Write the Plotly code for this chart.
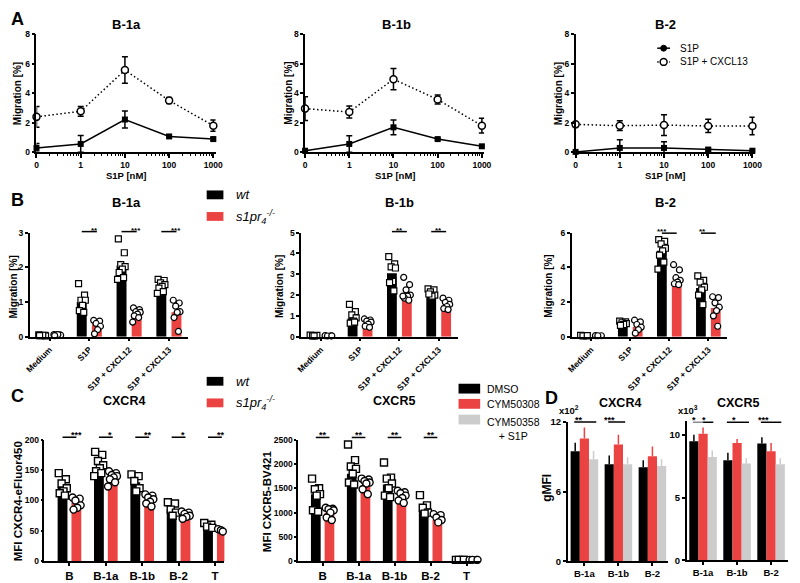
import numpy as np
import plotly.graph_objects as go

W, H = 800, 583
FONT = "Liberation Sans"
RED = "#EB4242"
GRAY = "#CCCCCC"

# ---------------- Panel A data ----------------
A_titles = ["B-1a", "B-1b", "B-2"]
A_conc = [0, 1, 10, 100, 1000]
A_tick_labels = ["0", "1", "10", "100", "1000"]
A_s1p = [[0.29, 0.56, 2.22, 1.07, 0.89],
         [0.10, 0.56, 1.69, 0.89, 0.40],
         [0.02, 0.29, 0.29, 0.18, 0.10]]
A_s1p_err = [[0.30, 0.57, 0.58, 0.10, 0.12],
             [0.05, 0.56, 0.50, 0.06, 0.10],
             [0.02, 0.55, 0.42, 0.10, 0.05]]
A_cx13 = [[2.40, 2.78, 5.58, 3.51, 1.80],
          [2.96, 2.73, 4.96, 3.58, 1.80],
          [1.89, 1.80, 1.84, 1.78, 1.78]]
A_cx13_err = [[0.70, 0.33, 0.90, 0.20, 0.38],
              [0.80, 0.40, 0.72, 0.30, 0.50],
              [0.05, 0.33, 0.70, 0.45, 0.60]]

# ---------------- Panel B data ----------------
B_titles = ["B-1a", "B-1b", "B-2"]
B_groups = ["Medium", "S1P", "S1P + CXCL12", "S1P + CXCL13"]
B_wt_bar = [[0.03, 1.00, 2.05, 1.45],
            [0.05, 0.88, 3.05, 2.10],
            [0.05, 0.80, 4.95, 2.80]]
B_ko_bar = [[0.05, 0.35, 0.63, 0.70],
            [0.04, 0.65, 1.90, 1.50],
            [0.05, 0.55, 3.10, 1.65]]
B_wt_pts = [
    [[0.05, 0.04, 0.03, 0.02, 0.04, 0.03],
     [1.53, 1.20, 1.05, 1.05, 0.90, 0.75, 0.70],
     [2.82, 2.42, 2.08, 2.02, 1.95, 1.85, 1.70, 1.65],
     [1.65, 1.62, 1.55, 1.50, 1.45, 1.40, 1.30, 1.25]],
    [[0.07, 0.05, 0.04, 0.06, 0.03],
     [1.55, 1.20, 1.05, 0.90, 0.75, 0.65, 0.70],
     [3.85, 3.50, 3.35, 3.30, 2.65, 2.60, 2.20],
     [2.30, 2.25, 2.15, 2.00, 1.95, 2.05]],
    [[0.07, 0.05, 0.04, 0.06],
     [0.90, 0.85, 0.80, 0.75, 0.70, 0.65],
     [5.60, 5.50, 5.35, 5.10, 4.95, 4.70, 4.30, 3.90],
     [3.50, 3.25, 3.15, 2.85, 2.70, 2.40, 1.85]]]
B_ko_pts = [
    [[0.06, 0.05, 0.05, 0.04, 0.06, 0.03],
     [0.47, 0.45, 0.38, 0.30, 0.20, 0.08],
     [0.83, 0.78, 0.72, 0.70, 0.65, 0.60, 0.55, 0.42],
     [1.05, 0.97, 0.88, 0.72, 0.70, 0.55, 0.15]],
    [[0.05, 0.04, 0.03, 0.04],
     [0.85, 0.80, 0.75, 0.70, 0.60, 0.50, 0.45],
     [2.85, 2.50, 2.25, 2.00, 1.95, 1.85, 1.75, 1.95],
     [1.85, 1.75, 1.65, 1.55, 1.45, 1.35, 1.30]],
    [[0.06, 0.05, 0.05],
     [0.95, 0.85, 0.70, 0.55, 0.40, 0.20],
     [4.15, 3.85, 3.40, 3.25, 3.15, 3.05, 3.00],
     [2.30, 2.25, 1.95, 1.70, 1.50, 1.20, 0.60]]]
B_yticks = [[0, 1, 2, 3], [0, 1, 2, 3, 4, 5], [0, 2, 4, 6]]
B_sig = [[(1, "**"), (2, "***"), (3, "***")],
         [(2, "**"), (3, "**")],
         [(2, "***"), (3, "**")]]
B_sig_level = [3.03, 5.05, 5.97]

# ---------------- Panel C data ----------------
C_titles = ["CXCR4", "CXCR5"]
C_ytitles = ["MFI CXCR4-eFluor450", "MFI CXCR5-BV421"]
C_cells = ["B", "B-1a", "B-1b", "B-2", "T"]
C_wt_bar = [[122, 155, 130, 85, 55], [1380, 1800, 1580, 1030, 30]]
C_ko_bar = [[97, 137, 97, 70, 50], [1000, 1560, 1300, 850, 30]]
C_wt_pts = [
    [[145, 135, 128, 120, 115, 112, 108],
     [180, 175, 165, 158, 153, 148, 145, 140],
     [143, 140, 132, 120, 115],
     [97, 95, 85, 80, 75],
     [63, 60, 57, 55]],
    [[1700, 1500, 1480, 1380, 1350, 1050, 1020],
     [2400, 2080, 1950, 1900, 1800, 1620, 1580],
     [2030, 1720, 1700, 1600, 1500, 1350, 1320],
     [1360, 1150, 1100, 1000, 980],
     [30, 30, 30, 30]]]
C_ko_pts = [
    [[105, 103, 100, 92, 88, 85],
     [148, 145, 142, 140, 138, 135, 130, 123],
     [110, 108, 105, 102, 98, 95, 90],
     [82, 80, 78, 75, 73, 70],
     [53, 52, 51, 50, 49]],
    [[1100, 1080, 1070, 1050, 1000, 900, 850],
     [1700, 1680, 1650, 1620, 1600, 1480, 1380],
     [1450, 1420, 1400, 1350, 1300, 1250, 1200],
     [970, 950, 900, 850, 800],
     [30, 30, 30, 30]]]
C_yticks = [[0, 50, 100, 150, 200], [0, 500, 1000, 1500, 2000, 2500]]
C_sig = [["***", "*", "**", "*", "**"], ["**", "**", "**", "**", None]]
C_sig_level = [204, 2545]

# ---------------- Panel D data ----------------
D_titles = ["CXCR4", "CXCR5"]
D_scale = ["x10<sup>2</sup>", "x10<sup>3</sup>"]
D_cells = ["B-1a", "B-1b", "B-2"]
D_treat = ["DMSO", "CYM50308", "CYM50358<br>+ S1P"]
D_mean = [[[9.47, 8.37, 8.11], [10.57, 10.06, 9.04], [8.80, 8.37, 8.20]],
          [[9.48, 7.97, 9.30], [10.08, 9.35, 8.70], [8.23, 7.71, 7.66]]]
D_err = [[[0.75, 0.75, 0.60], [0.95, 0.85, 0.85], [0.70, 0.60, 0.60]],
         [[0.52, 0.60, 0.50], [0.50, 0.32, 0.65], [0.52, 0.42, 0.47]]]
D_yticks = [[0, 6, 12], [0, 5, 10]]

# ============================================================
fig = go.Figure()
layout = {}
annotations = []
shapes = []
AXES = {}
DOT = "1.5px,2.5px"


def px_x(x):
    return x / W


def px_y(y):
    return 1 - y / H


def xr(i):
    return "x" if i == 1 else f"x{i}"


def yr(i):
    return "y" if i == 1 else f"y{i}"


def data_to_px(i, x, y):
    xbox, xrange, ybox, yrange = AXES[i]
    px = xbox[0] + (x - xrange[0]) / (xrange[1] - xrange[0]) * (xbox[1] - xbox[0])
    py = ybox[1] - (y - yrange[0]) / (yrange[1] - yrange[0]) * (ybox[1] - ybox[0])
    return px, py


def axis_common(size):
    return dict(showline=True, linecolor="black", linewidth=1.5, ticks="outside",
                ticklen=4, tickwidth=1.5, tickcolor="black", showgrid=False,
                zeroline=False,
                tickfont=dict(family=FONT, size=size, color="black", weight="bold"))


def add_axes(i, xbox, ybox, xrange, yrange, ytick, xsize=9, ysize=9, yticklen=4):
    AXES[i] = (xbox, xrange, ybox, yrange)
    xk = "xaxis" if i == 1 else f"xaxis{i}"
    yk = "yaxis" if i == 1 else f"yaxis{i}"
    xa = axis_common(xsize)
    xa.update(domain=[px_x(xbox[0]), px_x(xbox[1])], anchor=yr(i), range=xrange)
    ya = axis_common(ysize)
    ya.update(domain=[px_y(ybox[1]), px_y(ybox[0])], anchor=xr(i), range=yrange,
              tickmode="array", tickvals=ytick, ticklen=yticklen)
    layout[xk] = xa
    layout[yk] = ya
    return xa, ya


def text(xp, yp, s, size, bold=True, italic=False, xanchor="center",
         yanchor="middle", angle=0):
    if bold:
        s = f"<b>{s}</b>"
    if italic:
        s = f"<i>{s}</i>"
    annotations.append(dict(x=px_x(xp), y=px_y(yp), xref="paper", yref="paper",
                            text=s, showarrow=False, textangle=angle,
                            font=dict(family=FONT, size=size, color="black"),
                            xanchor=xanchor, yanchor=yanchor))


def sig(i, x0, x1, y, s, color="black", sx=None, size=9):
    ax0, ay = data_to_px(i, x0, y)
    ax1, _ = data_to_px(i, x1, y)
    shapes.append(dict(type="line", xref="paper", yref="paper", x0=px_x(ax0), x1=px_x(ax1),
                       y0=px_y(ay), y1=px_y(ay), line=dict(color=color, width=1.5)))
    cx = (ax0 + ax1) / 2 if sx is None else data_to_px(i, sx, y)[0]
    annotations.append(dict(x=px_x(cx), y=px_y(ay), xref="paper", yref="paper",
                            text=f"<b>{s}</b>", showarrow=False, yanchor="bottom",
                            yshift=-5, font=dict(family=FONT, size=size, color="black")))


JIT = [-0.08, 0.07, -0.02, 0.09, 0.02, -0.06, 0.05, -0.10, 0.0]

# ---------------- Panel A ----------------
A_xbox = [(31, 213), (304, 486), (579, 761)]
A_title_x = [122, 397, 670]
A_ytitle_x = [12, 287, 561]
A_pos = [np.log10(c) if c > 0 else -1.0 for c in A_conc]
minor = []
for d in range(-1, 3):
    for k in range(2, 10):
        minor.append(np.log10(k) + d)
for p in range(3):
    i = p + 1
    xa, ya = add_axes(i, A_xbox[p], (29, 149), [-1, 3.05], [0, 8], [0, 2, 4, 6, 8],
                      xsize=8.5, ysize=8.5, yticklen=3)
    xa.update(tickmode="array", tickvals=A_pos, ticktext=A_tick_labels,
              minor=dict(tickmode="array", tickvals=minor, ticks="outside",
                         ticklen=2, tickwidth=1, tickcolor="black"))
    fig.add_trace(go.Scatter(
        x=A_pos, y=A_cx13[p], xaxis=xr(i), yaxis=yr(i), mode="lines+markers",
        line=dict(color="black", width=1.5, dash=DOT),
        marker=dict(symbol="circle", size=7, color="white",
                    line=dict(color="black", width=1.5)),
        error_y=dict(type="data", array=A_cx13_err[p], color="black",
                     thickness=1.5, width=3),
        showlegend=False, cliponaxis=False))
    fig.add_trace(go.Scatter(
        x=A_pos, y=A_s1p[p], xaxis=xr(i), yaxis=yr(i), mode="lines+markers",
        line=dict(color="black", width=1.5),
        marker=dict(symbol="square", size=6, color="black"),
        error_y=dict(type="data", array=A_s1p_err[p], color="black",
                     thickness=1.5, width=3),
        showlegend=False, cliponaxis=False))
    text(A_title_x[p], 19, A_titles[p], 13)
    text(A_ytitle_x[p], 89, "Migration [%]", 10, angle=-90)
    text((A_xbox[p][0] + A_xbox[p][1]) / 2, 173, "S1P [nM]", 9.5)
text(3, 13, "A", 18, xanchor="left")

# legend A
shapes.append(dict(type="line", xref="paper", yref="paper", x0=px_x(662), x1=px_x(675),
                   y0=px_y(43), y1=px_y(43), line=dict(color="black", width=1.5)))
shapes.append(dict(type="circle", xref="paper", yref="paper", x0=px_x(665.5), x1=px_x(671.5),
                   y0=px_y(46), y1=px_y(40), fillcolor="black", line=dict(color="black", width=1)))
shapes.append(dict(type="line", xref="paper", yref="paper", x0=px_x(662), x1=px_x(675),
                   y0=px_y(57), y1=px_y(57), line=dict(color="black", width=1.5, dash=DOT)))
shapes.append(dict(type="circle", xref="paper", yref="paper", x0=px_x(665), x1=px_x(672),
                   y0=px_y(60.5), y1=px_y(53.5), fillcolor="white", line=dict(color="black", width=1.5)))
text(683, 43, "S1P", 10, bold=False, xanchor="left")
text(683, 57, "S1P + CXCL13", 10, bold=False, xanchor="left")

# ---------------- Panel B ----------------
B_xbox = [(24, 185), (300, 459), (575, 733)]
B_title_x = [122, 400, 670]
B_ytitle_x = [8, 278, 552]
B_off = 0.19
B_w = 0.25
for p in range(3):
    i = 4 + p
    ymax = B_yticks[p][-1]
    xa, ya = add_axes(i, B_xbox[p], (231, 337), [-0.5, 3.48], [0, ymax], B_yticks[p],
                      xsize=8.5, ysize=8.5, yticklen=3)
    xa.update(tickmode="array", tickvals=list(range(4)), ticktext=B_groups,
              tickangle=-45, ticklen=3)
    xs = np.arange(4)
    fig.add_trace(go.Bar(x=xs - B_off, y=B_wt_bar[p], width=B_w, marker_color="black",
                         marker_line_width=0, xaxis=xr(i), yaxis=yr(i), showlegend=False))
    fig.add_trace(go.Bar(x=xs + B_off, y=B_ko_bar[p], width=B_w, marker_color=RED,
                         marker_line_width=0, xaxis=xr(i), yaxis=yr(i), showlegend=False))
    for g in range(4):
        wp = B_wt_pts[p][g]
        kp = B_ko_pts[p][g]
        fig.add_trace(go.Scatter(
            x=[g - B_off + JIT[k] for k in range(len(wp))], y=wp, mode="markers",
            marker=dict(symbol="square", size=6, color="white",
                        line=dict(color="black", width=1.2)),
            xaxis=xr(i), yaxis=yr(i), showlegend=False, cliponaxis=False))
        fig.add_trace(go.Scatter(
            x=[g + B_off + JIT[k] for k in range(len(kp))], y=kp, mode="markers",
            marker=dict(symbol="circle", size=6, color="white",
                        line=dict(color="black", width=1.2)),
            xaxis=xr(i), yaxis=yr(i), showlegend=False, cliponaxis=False))
    for g, s in B_sig[p]:
        sig(i, g - B_off, g + B_off, B_sig_level[p], s, size=8)
    text(B_title_x[p], 200, B_titles[p], 13)
    text(B_ytitle_x[p], 286, "Migration [%]", 10, angle=-90)
text(3, 198, "B", 18, xanchor="left")

# legend B and C (wt / s1pr4)
for ytop in (188, 378):
    shapes.append(dict(type="rect", xref="paper", yref="paper", x0=px_x(204), x1=px_x(221),
                       y0=px_y(ytop + 9), y1=px_y(ytop), fillcolor="black", line_width=0))
    shapes.append(dict(type="rect", xref="paper", yref="paper", x0=px_x(204), x1=px_x(221),
                       y0=px_y(ytop + 31), y1=px_y(ytop + 22), fillcolor=RED, line_width=0))
    text(232, ytop + 4.5, "wt", 13, bold=False, italic=True, xanchor="left")
    text(232, ytop + 27, "s1pr<sub>4</sub><sup>-/-</sup>", 13, bold=False, italic=True,
         xanchor="left")

# ---------------- Panel C ----------------
C_xbox = [(39, 222), (297, 482)]
C_xrange = [[-0.69, 4.26], [-0.68, 4.38]]
C_title_x = [120, 394]
C_ytitle_x = [13, 266]
C_off = 0.19
C_w = 0.27
for p in range(2):
    i = 7 + p
    ymax = C_yticks[p][-1]
    xa, ya = add_axes(i, C_xbox[p], (442, 566), C_xrange[p], [0, ymax], C_yticks[p],
                      xsize=11.5, ysize=8.5, yticklen=2)
    xa.update(tickmode="array", tickvals=list(range(5)), ticktext=C_cells, ticklen=3)
    xs = np.arange(5)
    fig.add_trace(go.Bar(x=xs - C_off, y=C_wt_bar[p], width=C_w, marker_color="black",
                         marker_line_width=0, xaxis=xr(i), yaxis=yr(i), showlegend=False))
    fig.add_trace(go.Bar(x=xs + C_off, y=C_ko_bar[p], width=C_w, marker_color=RED,
                         marker_line_width=0, xaxis=xr(i), yaxis=yr(i), showlegend=False))
    for g in range(5):
        wp = C_wt_pts[p][g]
        kp = C_ko_pts[p][g]
        fig.add_trace(go.Scatter(
            x=[g - C_off + 1.3 * JIT[k] for k in range(len(wp))], y=wp, mode="markers",
            marker=dict(symbol="square", size=7, color="white",
                        line=dict(color="black", width=1.4)),
            xaxis=xr(i), yaxis=yr(i), showlegend=False, cliponaxis=False))
        fig.add_trace(go.Scatter(
            x=[g + C_off + 1.3 * JIT[k] for k in range(len(kp))], y=kp, mode="markers",
            marker=dict(symbol="circle", size=7, color="white",
                        line=dict(color="black", width=1.4)),
            xaxis=xr(i), yaxis=yr(i), showlegend=False, cliponaxis=False))
        if C_sig[p][g]:
            sig(i, g - C_off, g + C_off, C_sig_level[p], C_sig[p][g], size=9)
    text(C_title_x[p], 403, C_titles[p], 12.5)
    text(C_ytitle_x[p], 505, C_ytitles[p], 11.5, angle=-90)
text(3, 398, "C", 18, xanchor="left")

# legend D treatments
D_colors = ["black", RED, GRAY]
leg_y = [390, 405.5, 421.5]
for k in range(3):
    shapes.append(dict(type="rect", xref="paper", yref="paper", x0=px_x(460), x1=px_x(482),
                       y0=px_y(leg_y[k] + 5), y1=px_y(leg_y[k] - 5), fillcolor=D_colors[k],
                       line_width=0))
text(487, 390, D_treat[0], 10.5, bold=False, xanchor="left")
text(487, 405.5, D_treat[1], 10.5, bold=False, xanchor="left")
text(487, 416, D_treat[2], 10.5, bold=False, xanchor="left", yanchor="top")

# ---------------- Panel D ----------------
D_xbox = [(571, 673), (692, 795)]
D_ybox = [(424, 566), (423, 565)]
D_xrange = [[-0.49, 2.46], [-0.48, 2.5]]
D_yrange = [[0, 12], [0, 11.1]]
D_title_x = [624, 744]
D_scale_x = [560, 681]
D_off = [-0.27, 0.0, 0.27]
D_w = 0.27
for p in range(2):
    i = 9 + p
    xa, ya = add_axes(i, D_xbox[p], D_ybox[p], D_xrange[p],
                      D_yrange[p], D_yticks[p], xsize=9.5, ysize=9.5, yticklen=3)
    xa.update(tickmode="array", tickvals=list(range(3)), ticktext=D_cells, ticklen=3)
    xs = np.arange(3)
    for k in range(3):
        fig.add_trace(go.Bar(
            x=xs + D_off[k], y=D_mean[p][k], width=D_w, marker_color=D_colors[k],
            marker_line_width=0, xaxis=xr(i), yaxis=yr(i), showlegend=False,
            error_y=dict(type="data", array=D_err[p][k], arrayminus=[0, 0, 0],
                         color=D_colors[k], thickness=1.5, width=0)))
    text(D_title_x[p], 405, D_titles[p], 12.5)
    text(D_scale_x[p], 412, D_scale[p], 9.5, xanchor="left")

sig(9, -0.3, 0.35, 12.0, "**")
sig(9, 1 - 0.3, 1 + 0.2, 12.0, "***")
sig(10, -0.3, 0.0, 11.0, "*", color="#888888")
sig(10, 0.0, 0.3, 11.0, "*")
sig(10, 1 - 0.3, 1 + 0.35, 11.0, "*")
sig(10, 2 - 0.3, 2 + 0.3, 11.0, "***")
text(550, 491, "gMFI", 12, angle=-90)
text(546, 400, "D", 18, xanchor="left")

layout.update(dict(
    width=W, height=H, margin=dict(l=0, r=0, t=0, b=0), autosize=False,
    paper_bgcolor="white", plot_bgcolor="white", barmode="overlay",
    showlegend=False, annotations=annotations, shapes=shapes,
    font=dict(family=FONT, color="black"),
))
fig.update_layout(**layout)
fig.write_html("out.html", config={"displayModeBar": False},
               post_script="document.body.style.margin='0';document.body.style.overflow='hidden';")
